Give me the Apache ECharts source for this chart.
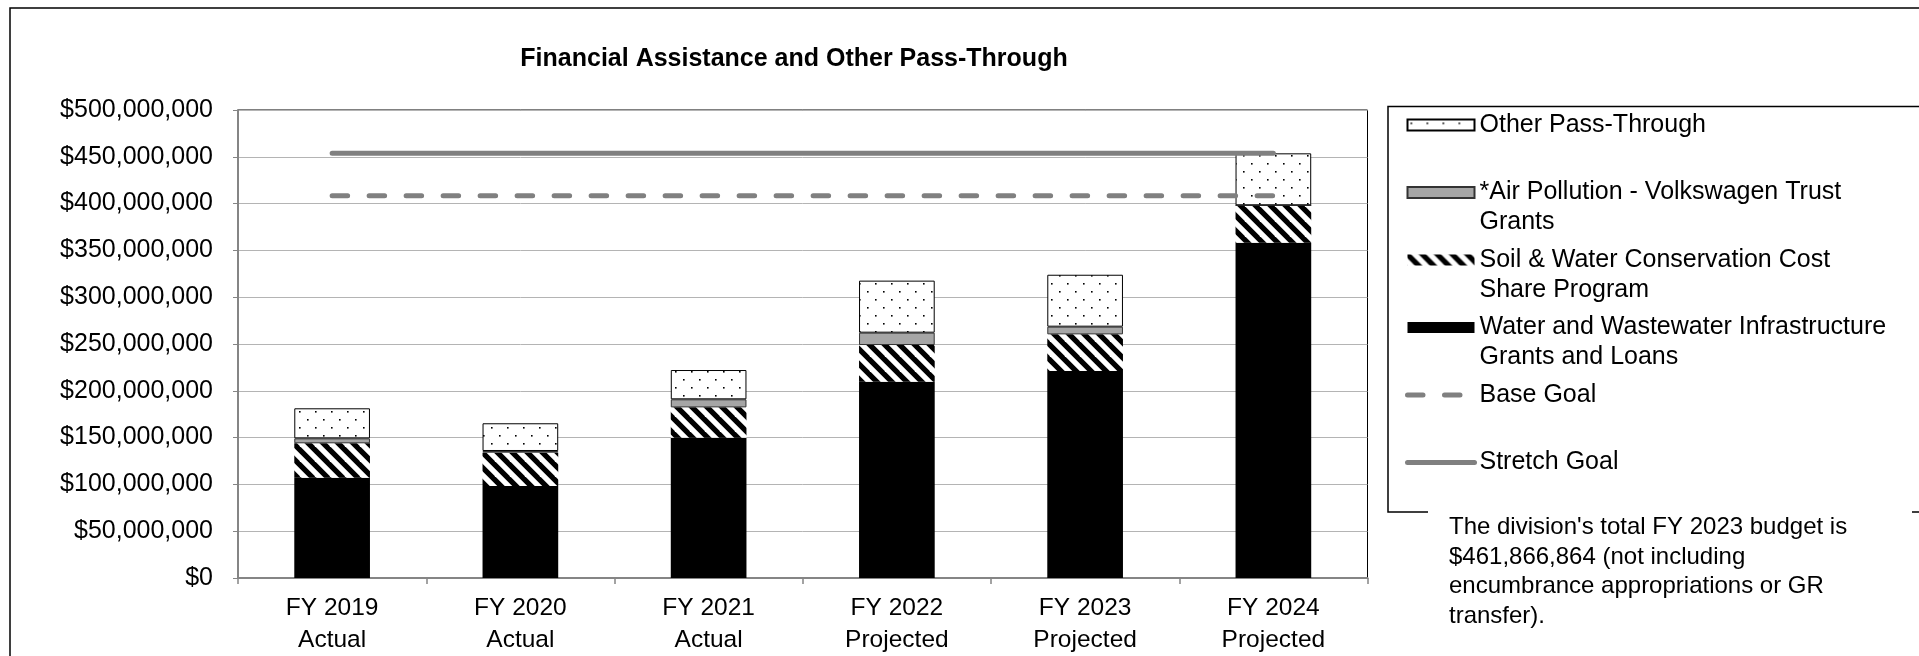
<!DOCTYPE html>
<html>
<head>
<meta charset="utf-8">
<script src="https://cdn.jsdelivr.net/npm/echarts@6/dist/echarts.min.js"></script>
<style>
html,body{margin:0;padding:0;background:#fff;}
#chart{width:1919px;height:656px;}
</style>
</head>
<body>
<div id="chart"></div>
<script>
const categories = ['FY 2019\nActual', 'FY 2020\nActual', 'FY 2021\nActual', 'FY 2022\nProjected', 'FY 2023\nProjected', 'FY 2024\nProjected'];
const water = [107.2e6, 98.3e6, 149.9e6, 209.8e6, 221.2e6, 358.3e6];
const soil = [36.7e6, 35.6e6, 32.4e6, 39.1e6, 39.1e6, 39.9e6];
const air = [5.3e6, 1.8e6, 8.6e6, 13.2e6, 8.2e6, 0];
const other = [32.1e6, 29.6e6, 31.3e6, 55.6e6, 55.5e6, 55.5e6];
const baseGoal = [408.3e6, 408.3e6, 408.3e6, 408.3e6, 408.3e6, 408.3e6];
const stretchGoal = [453.7e6, 453.7e6, 453.7e6, 453.7e6, 453.7e6, 453.7e6];
const yTicks = { min: 0, max: 500e6, interval: 50e6 };
const titleText = 'Financial Assistance and Other Pass-Through';
const noteText = "The division's total FY 2023 budget is\n$461,866,864 (not including\nencumbrance appropriations or GR\ntransfer).";
const names = {
  other: 'Other Pass-Through',
  air: '*Air Pollution - Volkswagen Trust Grants',
  soil: 'Soil & Water Conservation Cost Share Program',
  water: 'Water and Wastewater Infrastructure Grants and Loans',
  base: 'Base Goal',
  stretch: 'Stretch Goal'
};
const legendLabels = {};
legendLabels[names.other] = '\nOther Pass-Through\n';
legendLabels[names.air] = '\n*Air Pollution - Volkswagen Trust\nGrants';
legendLabels[names.soil] = '\nSoil & Water Conservation Cost\nShare Program';
legendLabels[names.water] = '\nWater and Wastewater Infrastructure\nGrants and Loans';
legendLabels[names.base] = '\nBase Goal\n';
legendLabels[names.stretch] = '\nStretch Goal\n';

const FONT = '"Liberation Sans", Arial, Helvetica, sans-serif';
const GOAL_GRAY = '#808080';
const BASE_DASH = [15.5, 21.5];

function dotPattern() {
  const c = document.createElement('canvas');
  c.width = 16; c.height = 16;
  const g = c.getContext('2d');
  g.fillStyle = '#fff'; g.fillRect(0, 0, 16, 16);
  g.fillStyle = '#000';
  g.fillRect(3, 3, 1.6, 1.6);
  g.fillRect(11, 11, 1.6, 1.6);
  return c;
}
function hatchPattern() {
  const s = 15;
  const c = document.createElement('canvas');
  c.width = s; c.height = s;
  const g = c.getContext('2d');
  g.fillStyle = '#fff'; g.fillRect(0, 0, s, s);
  g.strokeStyle = '#000';
  g.lineWidth = 5.3;
  [-s, 0, s].forEach(function (k) {
    g.beginPath();
    g.moveTo(-3, k - 3);
    g.lineTo(s + 3, s + k + 3);
    g.stroke();
  });
  return c;
}

const chart = echarts.init(document.getElementById('chart'), null, { renderer: 'canvas' });

const option = {
  backgroundColor: '#fff',
  animation: false,
  textStyle: { fontFamily: FONT, color: '#000' },
  grid: { left: 238, right: 551.5, top: 110, bottom: 78, show: true, borderColor: '#000', borderWidth: 1, backgroundColor: 'transparent' },
  legend: {
    orient: 'vertical',
    left: 1405,
    top: 80,
    padding: 0,
    itemGap: -22.5,
    itemWidth: 67,
    itemHeight: 11,
    selectedMode: false,
    data: [
      { name: names.other, icon: 'rect' },
      { name: names.air, icon: 'rect' },
      { name: names.soil, icon: 'rect' },
      { name: names.water, icon: 'rect' },
      { name: names.base, itemStyle: { opacity: 0 }, lineStyle: { color: GOAL_GRAY, width: 5, type: BASE_DASH, cap: 'round' } },
      { name: names.stretch, itemStyle: { opacity: 0 }, lineStyle: { color: GOAL_GRAY, width: 5, type: 'solid', cap: 'round' } }
    ],
    formatter: function (n) { return legendLabels[n] || n; },
    textStyle: { fontFamily: FONT, fontSize: 25, lineHeight: 30, color: '#000' }
  },
  xAxis: {
    type: 'category',
    data: categories,
    boundaryGap: true,
    axisLine: { lineStyle: { color: '#858585', width: 2 } },
    axisTick: { show: true, length: 6, lineStyle: { color: '#858585', width: 1.5 } },
    axisLabel: { fontFamily: FONT, fontSize: 24.5, lineHeight: 32, color: '#000', margin: 14 },
    splitLine: { show: false }
  },
  yAxis: {
    type: 'value',
    min: yTicks.min,
    max: yTicks.max,
    interval: yTicks.interval,
    axisLine: { show: true, lineStyle: { color: '#858585', width: 2 } },
    axisTick: { show: true, length: 5, lineStyle: { color: '#858585', width: 1 } },
    axisLabel: {
      fontFamily: FONT, fontSize: 25, color: '#000', margin: 25,
      formatter: function (v) { return '$' + Math.round(v).toLocaleString('en-US'); }
    },
    splitLine: { show: true, lineStyle: { color: '#b4b4b4', width: 1 } }
  },
  series: [
    {
      name: names.water, type: 'bar', stack: 'total', barWidth: '40.2%', data: water,
      itemStyle: { color: '#000' }
    },
    {
      name: names.soil, type: 'bar', stack: 'total', data: soil,
      itemStyle: { color: { image: hatchPattern(), repeat: 'repeat' } }
    },
    {
      name: names.air, type: 'bar', stack: 'total', data: air,
      itemStyle: { color: '#a6a6a6', borderColor: '#333', borderWidth: 1 }
    },
    {
      name: names.other, type: 'bar', stack: 'total', data: other,
      itemStyle: { color: { image: dotPattern(), repeat: 'repeat' }, borderColor: '#000', borderWidth: 1 }
    },
    {
      name: names.base, type: 'line', data: baseGoal, symbol: 'none', z: 5,
      itemStyle: { color: GOAL_GRAY },
      lineStyle: { color: GOAL_GRAY, width: 5, type: BASE_DASH, cap: 'round' }
    },
    {
      name: names.stretch, type: 'line', data: stretchGoal, symbol: 'none', z: 5,
      itemStyle: { color: GOAL_GRAY },
      lineStyle: { color: GOAL_GRAY, width: 5, cap: 'round' }
    }
  ],
  graphic: [
    {
      type: 'rect', z: 0, silent: true,
      shape: { x: 10, y: 8, width: 1920, height: 700 },
      style: { fill: 'none', stroke: '#000', lineWidth: 1.5 }
    },
    {
      type: 'rect', z: 1, silent: true,
      shape: { x: 1388, y: 106.5, width: 540, height: 405.5 },
      style: { fill: 'none', stroke: '#000', lineWidth: 1.5 }
    },
    {
      type: 'rect', z: 2, silent: true,
      shape: { x: 1428, y: 509, width: 484, height: 150 },
      style: { fill: '#fff', stroke: 'none' }
    },
    {
      type: 'text', z: 3, silent: true,
      x: 1449, y: 513,
      style: { text: noteText, font: '24px ' + FONT, lineHeight: 29.5, fill: '#000', textAlign: 'left', textVerticalAlign: 'top' }
    },
    {
      type: 'text', z: 3, silent: true,
      x: 794, y: 59,
      style: { text: titleText, font: 'bold 25px ' + FONT, fill: '#000', textAlign: 'center', textVerticalAlign: 'middle' }
    }
  ]
};
chart.setOption(option);
</script>
</body>
</html>
